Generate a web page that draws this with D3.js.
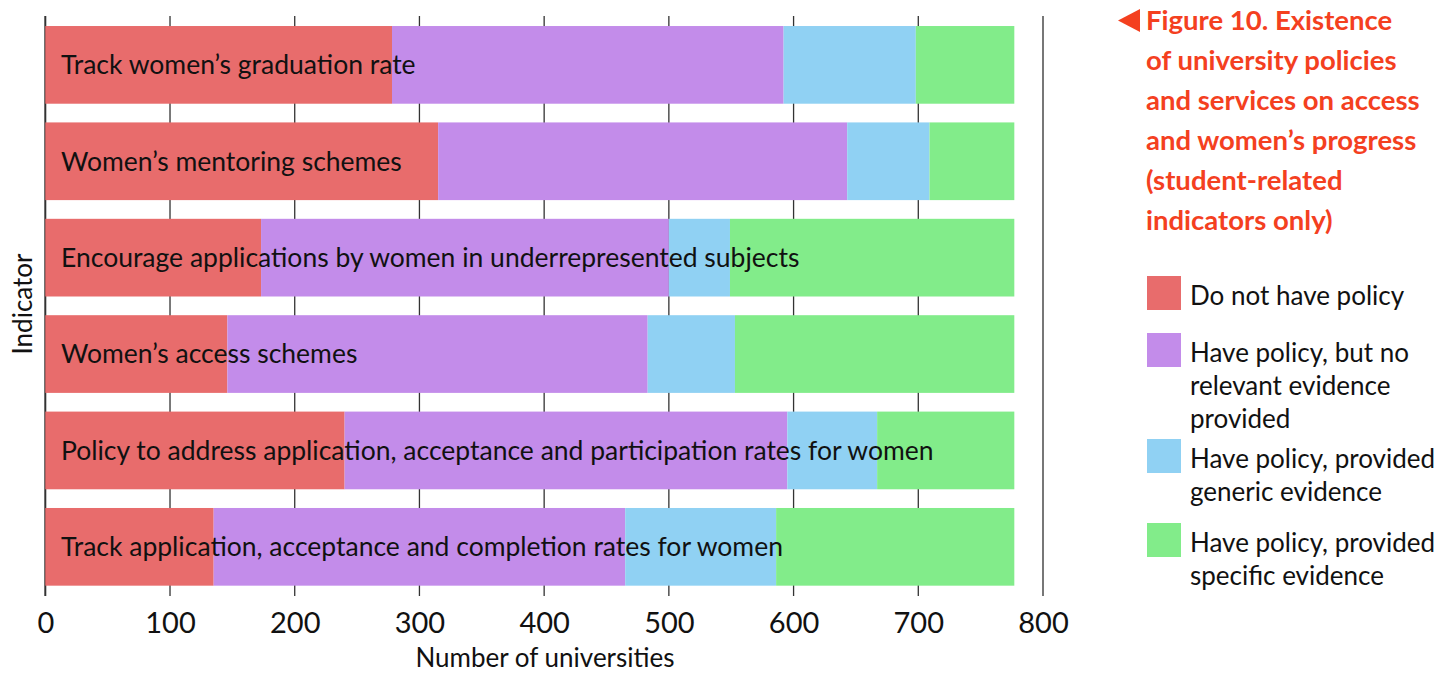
<!DOCTYPE html>
<html>
<head>
<meta charset="utf-8">
<script src="https://cdn.jsdelivr.net/npm/d3@7"></script>
<style>
  body { margin: 0; background: #fff; }
  text { font-family: Lato, "Open Sans", sans-serif; }
</style>
</head>
<body>
<div id="chart"></div>
<script>
// data
var indicators = [
  "Track women\u2019s graduation rate",
  "Women\u2019s mentoring schemes",
  "Encourage applications by women in underrepresented subjects",
  "Women\u2019s access schemes",
  "Policy to address application, acceptance and participation rates for women",
  "Track application, acceptance and completion rates for women"
]
var noPolicy       = [278, 315, 173, 146, 240, 135]
var noEvidence     = [314, 328, 327, 337, 355, 330]
var genericEvid    = [106, 66, 49, 70, 72, 121]
var specificEvid   = [79, 68, 228, 224, 110, 191]
var xTicks = [0, 100, 200, 300, 400, 500, 600, 700, 800]

var seriesNames = ["Do not have policy", "Have policy, but no relevant evidence provided",
  "Have policy, provided generic evidence", "Have policy, provided specific evidence"]
var legendLines = [["Do not have policy"], ["Have policy, but no", "relevant evidence", "provided"],
  ["Have policy, provided", "generic evidence"], ["Have policy, provided", "specific evidence"]]
var colors = ["#e86c6c", "#c38cea", "#90d1f3", "#82ec8a"]
var titleLines = ["Figure 10. Existence", "of university policies", "and services on access",
  "and women\u2019s progress", "(student-related", "indicators only)"]

var width = 1453, height = 675

var rows = indicators.map(function(name, i) {
  return {name: name, noPolicy: noPolicy[i], noEvidence: noEvidence[i],
          generic: genericEvid[i], specific: specificEvid[i]}
})
var keys = ["noPolicy", "noEvidence", "generic", "specific"]
var stacked = d3.stack().keys(keys)(rows)

var svg = d3.select("#chart").append("svg")
  .attr("width", width)
  .attr("height", height)

var x = d3.scaleLinear().domain([0, 800]).range([45.3, 1043])
var y = d3.scaleBand().domain(indicators).range([16, 595.7])
  .paddingInner(0.194).paddingOuter(0.104)

// grid lines behind bars
svg.append("g")
  .selectAll("line")
  .data(xTicks)
  .join("line")
    .attr("x1", d => x(d)).attr("x2", d => x(d))
    .attr("y1", 16).attr("y2", 596)
    .attr("stroke", d => d == 800 ? "#777" : "#333")
    .attr("stroke-width", d => (d == 800 || d == 0) ? 2 : 1.3)

// bars
svg.append("g")
  .selectAll("g")
  .data(stacked)
  .join("g")
    .attr("fill", (d, i) => colors[i])
  .selectAll("rect")
  .data(d => d)
  .join("rect")
    .attr("x", d => x(d[0]))
    .attr("width", d => x(d[1]) - x(d[0]))
    .attr("y", d => y(d.data.name))
    .attr("height", y.bandwidth())

// bar labels
svg.append("g")
  .selectAll("text")
  .data(indicators)
  .join("text")
    .attr("x", 61)
    .attr("y", d => y(d) + y.bandwidth() / 2)
    .attr("dy", "0.35em")
    .style("font-size", "26.5px")
    .style("fill", "#111")
    .text(d => d)

// x axis tick labels
var axis = d3.axisBottom(x).tickValues(xTicks).tickSize(0).tickPadding(0)
var gx = svg.append("g")
  .attr("transform", "translate(0,633)")
  .call(axis)
gx.select(".domain").remove()
gx.selectAll("text")
  .attr("dy", null)
  .attr("y", 0)
  .style("font-size", "29px")
  .style("font-family", "'Liberation Sans Narrow', Lato, sans-serif")
  .style("fill", "#111")

svg.append("text")
  .attr("x", 545)
  .attr("y", 667)
  .attr("text-anchor", "middle")
  .style("font-size", "26px")
  .style("fill", "#111")
  .text("Number of universities")

svg.append("text")
  .attr("transform", "translate(32,304) rotate(-90)")
  .attr("text-anchor", "middle")
  .style("font-size", "26px")
  .style("fill", "#111")
  .text("Indicator")

// title
svg.append("path")
  .attr("d", "M1118,20.5 L1140,9 L1140,32 Z")
  .attr("fill", "#f4401f")
svg.append("g")
  .selectAll("text")
  .data(titleLines)
  .join("text")
    .attr("x", 1146)
    .attr("y", (d, i) => 30 + i * 40)
    .style("font-size", "27.5px")
    .style("font-weight", "bold")
    .style("fill", "#f4401f")
    .text(d => d)

// legend
var swatchY = [276, 333, 439, 523]
var leg = svg.append("g")
  .selectAll("g")
  .data(seriesNames)
  .join("g")
    .attr("transform", (d, i) => "translate(1147," + swatchY[i] + ")")
leg.append("rect")
  .attr("width", 34).attr("height", 34)
  .attr("fill", (d, i) => colors[i])
leg.append("text")
  .style("font-size", "26px")
  .style("fill", "#111")
  .selectAll("tspan")
  .data((d, i) => legendLines[i])
  .join("tspan")
    .attr("x", 43)
    .attr("y", (d, j) => 29 + j * 33)
    .text(d => d)
</script>
</body>
</html>
